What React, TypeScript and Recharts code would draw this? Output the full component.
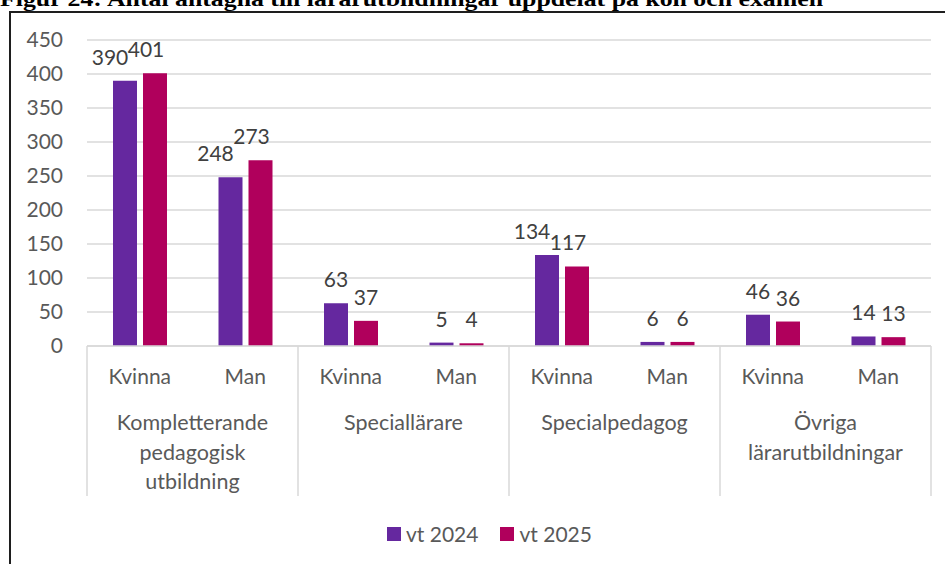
import { BarChart, Bar, XAxis, YAxis, CartesianGrid, LabelList } from 'recharts';

// categories
const sexes = ['Kvinna', 'Man', 'Kvinna', 'Man', 'Kvinna', 'Man', 'Kvinna', 'Man'];
const groupLines = [
  ['Kompletterande', 'pedagogisk', 'utbildning'],
  ['Speciallärare'],
  ['Specialpedagog'],
  ['Övriga', 'lärarutbildningar'],
];

// series
const seriesNames = ['vt 2024', 'vt 2025'];
const seriesColors = ['#65289f', '#b0005c'];
const vt2024 = [390, 248, 63, 5, 134, 6, 46, 14];
const vt2025 = [401, 273, 37, 4, 117, 6, 36, 13];

const yTicks = [0, 50, 100, 150, 200, 250, 300, 350, 400, 450];

const title = 'Figur 24: Antal antagna till lärarutbildningar uppdelat på kön och examen';

const data = sexes.map((s, i) => ({
  key: `c${i}`,
  sex: s,
  v2024: vt2024[i],
  v2025: vt2025[i],
}));

const FONT = 'Lato, "Noto Sans", sans-serif';
const TEXT = '#595959';
const GRID = '#d9d9d9';

function CategoryTick(props: any) {
  const { x, y, payload, index } = props;
  const half = payload && payload.offset ? payload.offset : 52.75;
  const g = Math.floor(index / 2);
  const isFirst = index % 2 === 0;
  const isLast = index === sexes.length - 1;
  return (
    <g>
      <text x={x} y={y + 38} textAnchor="middle" fill={TEXT} fontSize={21} fontFamily={FONT}>
        {sexes[index]}
      </text>
      {isFirst && (
        <>
          <line x1={x - half} x2={x - half} y1={y} y2={y + 150} stroke={GRID} strokeWidth={1.5} />
          {groupLines[g].map((line, li) => (
            <text
              key={li}
              x={x + half}
              y={y + 84 + li * 29.5}
              textAnchor="middle"
              fill={TEXT}
              fontSize={21.5}
              fontFamily={FONT}
            >
              {line}
            </text>
          ))}
        </>
      )}
      {isLast && <line x1={x + half} x2={x + half} y1={y} y2={y + 150} stroke={GRID} strokeWidth={1.5} />}
    </g>
  );
}

// value label: wide (3-digit) labels are nudged so they don't collide
function makeLabel(shift: number) {
  return (props: any) => {
    const { x, y, width, value } = props;
    const wide = String(value).length >= 3;
    const cx = x + width / 2 + (wide ? shift : 0);
    return (
      <text x={cx} y={y - 16} textAnchor="middle" fill="#404040" fontSize={21} fontFamily={FONT}>
        {value}
      </text>
    );
  };
}

export default function App() {
  return (
    <div style={{ position: 'absolute', left: 0, top: 0, width: 945, height: 564, overflow: 'hidden', background: '#fff' }}>
      <svg width={945} height={20} style={{ position: 'absolute', left: 0, top: 0 }}>
        <text
          x={0}
          y={6}
          fontFamily='"Liberation Serif", serif'
          fontWeight="bold"
          fontSize={21}
          fill="#000"
          textLength={823}
          lengthAdjust="spacingAndGlyphs"
        >
          {title}
        </text>
      </svg>
      <div
        style={{
          position: 'absolute',
          left: 9,
          top: 11,
          width: 960,
          height: 600,
          border: '2px solid #1e1e1e',
          boxSizing: 'border-box',
        }}
      />
      <div style={{ position: 'absolute', left: 0, top: 0 }}>
        <BarChart
          width={945}
          height={564}
          data={data}
          barSize={24}
          barGap={6}
          margin={{ top: 40, right: 14, left: 27, bottom: 0 }}
        >
          <CartesianGrid vertical={false} stroke={GRID} strokeWidth={1.5} />
          <XAxis
            dataKey="key"
            interval={0}
            height={218}
            tickSize={0}
            tickMargin={0}
            tickLine={false}
            axisLine={{ stroke: GRID, strokeWidth: 1.5 }}
            tick={<CategoryTick />}
          />
          <YAxis
            domain={[0, 450]}
            ticks={yTicks}
            width={60}
            axisLine={false}
            tickLine={false}
            tickSize={0}
            tickMargin={24}
            tick={{ fill: TEXT, fontSize: 21, fontFamily: FONT }}
          />
          <Bar dataKey="v2024" name={seriesNames[0]} fill={seriesColors[0]} isAnimationActive={false}>
            <LabelList dataKey="v2024" content={makeLabel(-15)} />
          </Bar>
          <Bar dataKey="v2025" name={seriesNames[1]} fill={seriesColors[1]} isAnimationActive={false}>
            <LabelList dataKey="v2025" content={makeLabel(-9)} />
          </Bar>
        </BarChart>
      </div>
      <div
        style={{
          position: 'absolute',
          left: 387,
          top: 521,
          display: 'flex',
          alignItems: 'center',
          fontFamily: FONT,
          fontSize: 21,
          color: TEXT,
          whiteSpace: 'nowrap',
        }}
      >
        {seriesNames.map((n, i) => (
          <div key={n} style={{ display: 'flex', alignItems: 'center', marginRight: i === 0 ? 22 : 0 }}>
            <span style={{ display: 'inline-block', width: 14, height: 14, background: seriesColors[i], marginRight: 5 }} />
            <span>{n}</span>
          </div>
        ))}
      </div>
    </div>
  );
}
